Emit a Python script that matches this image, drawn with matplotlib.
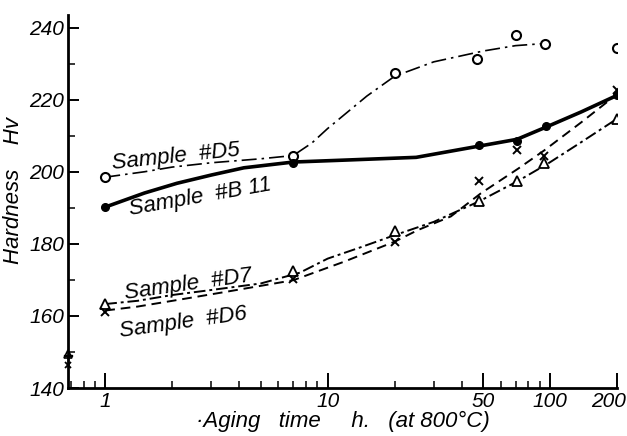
import matplotlib
matplotlib.use("Agg")
import matplotlib.pyplot as plt
import matplotlib.transforms as mtransforms
from matplotlib.ticker import FixedLocator, LogLocator, NullFormatter, MultipleLocator

# measured points (aging time in h, hardness Hv)
d5_h = [1, 7, 20, 47, 70, 95, 200]
d5_hv = [198.5, 204.5, 227.5, 231.3, 238.0, 235.5, 234.3]
b11_h = [1, 7, 48, 71, 96, 200]
b11_hv = [190.2, 202.5, 207.4, 208.4, 212.6, 221.2]
d7_h = [1, 7, 20, 48, 71, 94, 200]
d7_hv = [163.4, 172.6, 183.5, 192.0, 197.4, 202.3, 214.7]
d6_h = [1, 7, 20, 48, 71, 94, 200]
d6_hv = [161.2, 170.2, 180.5, 197.3, 206.0, 204.3, 222.6]

# as-quenched values drawn on the axis
zero_h = 0.68
zero_d7 = 149.5
zero_d6 = 146.5

# hand drawn curves
d5_curve_h = [1, 1.5, 2, 3, 5, 7, 8.5, 10, 15, 20, 30, 50, 70, 95]
d5_curve_hv = [198.5, 200.0, 201.3, 202.5, 203.6, 204.5, 208.0, 212.0, 221.0, 226.5, 230.5, 233.5, 235.0, 235.6]
b11_curve_h = [1, 1.5, 2.1, 3, 4.2, 7, 12.7, 25, 43, 71, 96, 138, 200]
b11_curve_hv = [190.2, 194.1, 196.8, 199.1, 201.1, 202.7, 203.3, 204.0, 206.6, 209.0, 212.4, 216.6, 221.2]
d7_curve_h = [1, 1.4, 2, 3, 5, 7.5, 10, 14, 20, 30, 48, 72, 98, 138, 200]
d7_curve_hv = [163.3, 164.2, 165.8, 167.2, 169.0, 172.0, 175.9, 179.0, 182.4, 186.1, 191.8, 197.5, 202.3, 208.2, 214.7]
d6_curve_h = [1, 1.4, 2.1, 3.5, 7, 11.8, 20, 25.4, 35.8, 48.8, 72, 94, 138, 200]
d6_curve_hv = [161.5, 162.6, 164.4, 166.7, 169.9, 175.0, 180.6, 183.8, 187.6, 194.0, 200.9, 205.9, 213.7, 221.5]

x_ticks = [1, 10, 50, 100, 200]
x_tick_labels = ["1", "10", "50", "100", "200"]
y_ticks = [140, 160, 180, 200, 220, 240]

families = ["Liberation Sans", "DejaVu Sans"]
font = dict(family=families, style="italic")

fig = plt.figure(figsize=(6.27, 4.36), dpi=100)
ax = fig.add_axes([68 / 627, 48 / 436, 549 / 627, 373 / 436])

ax.plot(d5_curve_h, d5_curve_hv, color="black", lw=1.2, dashes=(9, 3, 1.5, 3))
ax.plot(b11_curve_h, b11_curve_hv, color="black", lw=2.6)
ax.plot(d7_curve_h, d7_curve_hv, color="black", lw=1.4, dashes=(6, 2, 1.5, 2))
ax.plot(d6_curve_h, d6_curve_hv, color="black", lw=1.4, dashes=(5, 3))

ax.plot(d5_h, d5_hv, "o", ms=6.5, mfc="white", mec="black", mew=1.5)
ax.plot(b11_h, b11_hv, "o", ms=5.5, color="black")
ax.plot(d7_h, d7_hv, "^", ms=7, mfc="white", mec="black", mew=1.3)
ax.plot(d6_h, d6_hv, "x", ms=5.5, color="black", mew=1.4)

ax.plot([zero_h], [zero_d7], "^", ms=6, mfc="white", mec="black", mew=1.2, clip_on=False)
ax.plot([zero_h], [zero_d6], "x", ms=5, color="black", mew=1.3, clip_on=False)
ax.plot([zero_h], [(zero_d7 + zero_d6) / 2], marker="$\\top$", ms=6, color="black", clip_on=False)

ax.text(2.07, 204.2, "Sample  #D5", rotation=6, ha="center", va="center", fontsize=16, **font)
ax.text(2.68, 193.0, "Sample  #B 11", rotation=10, ha="center", va="center", fontsize=16, **font)
ax.text(2.37, 168.6, "Sample  #D7", rotation=8, ha="center", va="center", fontsize=16, **font)
ax.text(2.24, 158.0, "Sample  #D6", rotation=8, ha="center", va="center", fontsize=16, **font)

ax.set_xscale("log")
ax.set_xlim(zero_h, 200)
ax.set_ylim(140, 243.5)

ax.xaxis.set_major_locator(FixedLocator(x_ticks))
ax.set_xticklabels(x_tick_labels)
ax.xaxis.set_minor_locator(LogLocator(base=10, subs=range(2, 10)))
ax.xaxis.set_minor_formatter(NullFormatter())
ax.yaxis.set_major_locator(FixedLocator(y_ticks))
ax.yaxis.set_minor_locator(MultipleLocator(10))

ax.tick_params(which="major", direction="in", length=11, width=1.4, labelsize=15, pad=3)
ax.tick_params(axis="y", which="major", length=8)
ax.tick_params(which="minor", direction="in", length=5, width=1.1)
for lab in ax.get_xticklabels() + ax.get_yticklabels():
    lab.set_fontstyle("italic")
    lab.set_fontfamily(families)

# the last label sits against the right edge, as in the original
last = ax.get_xticklabels()[-1]
last.set_horizontalalignment("right")
last.set_transform(last.get_transform() + mtransforms.ScaledTranslation(9 / 100, 0, fig.dpi_scale_trans))

for side in ["top", "right"]:
    ax.spines[side].set_visible(False)
for side in ["left", "bottom"]:
    ax.spines[side].set_linewidth(2)

ax.set_xlabel("·Aging   time     h.   (at 800°C)", fontsize=16, labelpad=0, **font)
ax.set_ylabel("Hardness    Hv", fontsize=16, **font)
ax.yaxis.set_label_coords(-0.08, 0.53)

fig.savefig("out.png", dpi=100)
